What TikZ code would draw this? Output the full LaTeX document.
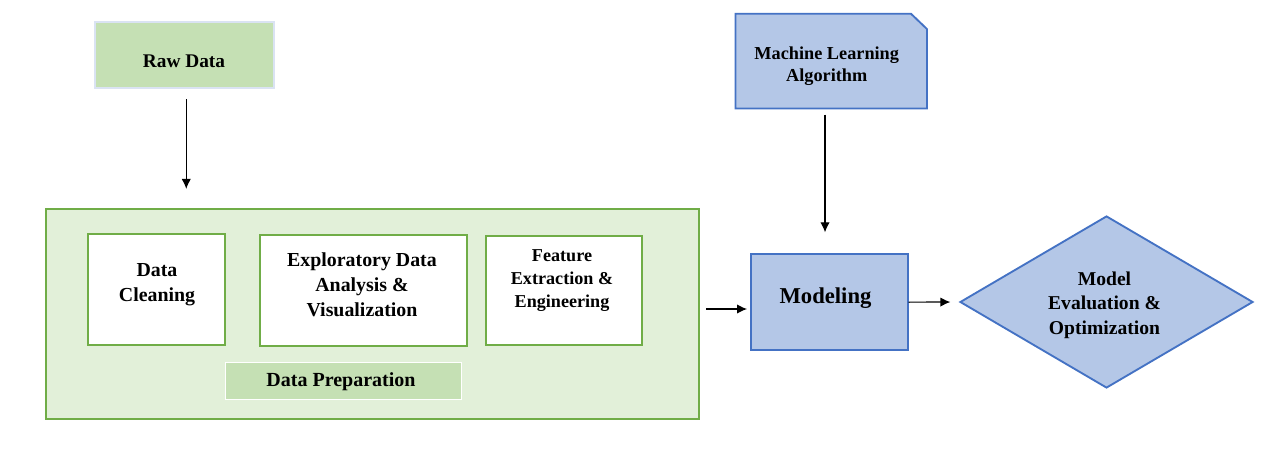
\documentclass[tikz,border=0pt]{standalone}
\usepackage{fontspec}
\setmainfont{Liberation Serif}
\usetikzlibrary{arrows.meta,shapes.geometric,fit,calc}
\definecolor{gfill}{HTML}{E2F0D9}
\definecolor{gmid}{HTML}{C5E0B4}
\definecolor{gline}{HTML}{70AD47}
\definecolor{bfill}{HTML}{B4C7E7}
\definecolor{bline}{HTML}{4472C4}
\definecolor{rawline}{HTML}{DAE3F3}
\begin{document}
\begin{tikzpicture}[x=0.75pt,y=-0.75pt,
  frame/.style={inner sep=0pt},
  gbox/.style={draw=gline, line width=1.6pt, fill=white},
  bbox/.style={draw=bline, line width=1.4pt, fill=bfill},
  txt/.style={font=\bfseries, align=center, inner sep=0pt},
  arr/.style={-{Latex[length=7.5pt,width=7pt]}, line width=0.9pt, black}]
\useasboundingbox (0,0) rectangle (1262,456);
\fill[white] (0,0) rectangle (1262,456);

% Raw Data
\node[frame, fit={(95.3,22.3) (274.3,88.3)}, draw=rawline, line width=1.4pt, fill=gmid] (raw) {};
\node[txt, font=\bfseries\fontsize{14.5}{18}\selectfont] (rawT) at (184,61.2) {Raw Data};

% Machine learning algorithm
\node[frame, fit={(735.7,14) (926.7,108.3)}] (ml) {};
\draw[bbox] (ml.south west) -- (ml.north west) -- ([xshift=-12pt]ml.north east)
  -- ([yshift=-11.5pt]ml.north east) -- (ml.south east) -- cycle;
\node[txt, font=\bfseries\fontsize{13.7}{16.7}\selectfont] (mlT) at (826.7,66) {Machine Learning\\Algorithm};

% Data preparation container
\node[frame, fit={(46,209) (699,419)}, draw=gline, line width=1.6pt, fill=gfill] (prep) {};
\node[frame, fit={(87.7,234) (225.3,345)}, gbox] (clean) {};
\node[txt, font=\bfseries\fontsize{14.9}{19}\selectfont] (cleanT) at (157,284.5) {Data\\Cleaning};
\node[frame, fit={(260,234.7) (466.7,346)}, gbox] (eda) {};
\node[txt, font=\bfseries\fontsize{14.9}{18.75}\selectfont] (edaT) at (362,284.5) {Exploratory Data\\Analysis \&\\Visualization};
\node[frame, fit={(485.7,235.7) (642.3,345)}, gbox] (feat) {};
\node[txt, font=\bfseries\fontsize{13.6}{17}\selectfont] (featT) at (562,280.7) {Feature\\Extraction \&\\Engineering};
\node[frame, fit={(225.3,362.3) (461.7,399.3)}, draw=white, line width=0.8pt, fill=gmid] (preplab) {};
\node[txt, font=\bfseries\fontsize{15}{18}\selectfont] (preplabT) at (341,381.8) {Data Preparation};

% Modeling
\node[frame, fit={(751,254.3) (907.6,350)}, bbox] (model) {};
\node[txt, font=\bfseries\fontsize{17}{20}\selectfont] (modelT) at (825.5,298.3) {Modeling};

% Evaluation diamond
\node[diamond, draw=bline, line width=1.4pt, fill=bfill, inner sep=0pt,
  minimum width=219.75pt, minimum height=129pt] (eval) at (1106.5,302) {};
\node[txt, font=\bfseries\fontsize{14.7}{18.5}\selectfont] (evalT) at (1104.5,305) {Model\\Evaluation \&\\Optimization};

% Connectors
\draw[arr, shorten <=7.5pt, shorten >=14.25pt] ([xshift=1.1pt]raw.south) -- ([xshift=1.1pt]raw.south |- prep.north);
\coordinate (mlx) at (825,0);
\draw[arr, shorten <=4.5pt, shorten >=15.75pt] (mlx |- ml.south) -- (mlx |- model.north);
\coordinate (ay) at (0,309);
\draw[arr, shorten <=4.5pt, shorten >=2.25pt] (prep.east |- ay) -- (model.west |- ay);
\draw[arr, shorten >=6.5pt] (model.east) -- (eval.west);
\end{tikzpicture}
\end{document}
